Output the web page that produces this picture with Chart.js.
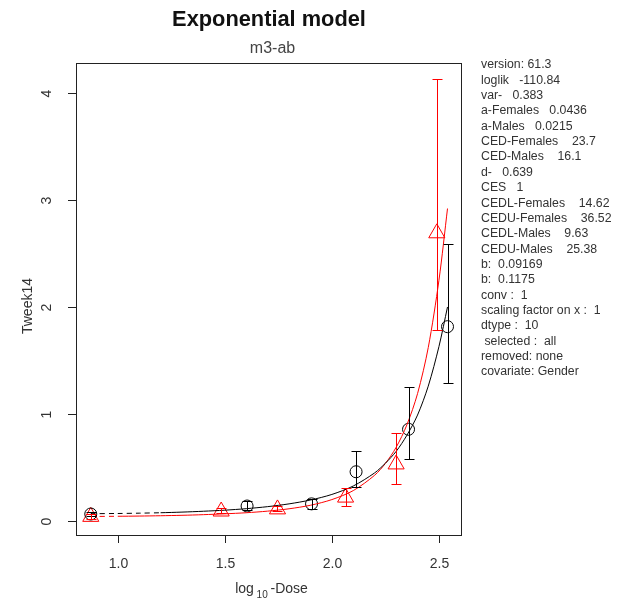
<!DOCTYPE html>
<html>
<head>
<meta charset="utf-8">
<title>Exponential model</title>
<script src="https://cdn.jsdelivr.net/npm/chart.js@4.4.1/dist/chart.umd.min.js"></script>
<style>
  html, body { margin:0; padding:0; background:#fff; }
  canvas { display:block; }
</style>
</head>
<body>
<canvas id="chart" width="618" height="607"></canvas>
<script>
// log10-dose grid for the fitted curves
const curveX     = [0.874, 1.0, 1.1, 1.2, 1.3, 1.4, 1.5, 1.6, 1.7, 1.8, 1.9, 2.0, 2.1, 2.2, 2.25, 2.3, 2.35, 2.4, 2.45, 2.5, 2.54];
const curveBlack = [0.068, 0.070, 0.073, 0.077, 0.083, 0.091, 0.101, 0.115, 0.134, 0.16, 0.196, 0.248, 0.327, 0.45, 0.54, 0.65, 0.80, 0.99, 1.26, 1.63, 2.0];
const curveRed   = [0.042, 0.044, 0.046, 0.049, 0.053, 0.059, 0.067, 0.077, 0.092, 0.114, 0.147, 0.2, 0.284, 0.428, 0.538, 0.688, 0.897, 1.19, 1.62, 2.25, 2.92];
const dashBlackTo = 1.2;
const dashRedTo   = 1.0;

// observed means with error bars
const circX  = [0.874, 1.604, 1.905, 2.113, 2.358, 2.540];
const circY  = [0.065, 0.14, 0.16, 0.46, 0.857, 1.816];
const circLo = [0.045, 0.10, 0.11, 0.32, 0.577, 1.287];
const circHi = [0.085, 0.19, 0.21, 0.65, 1.255, 2.59];

const triX  = [0.874, 1.483, 1.746, 2.064, 2.300, 2.490];
const triY  = [0.040, 0.09, 0.11, 0.22, 0.53, 2.69];
const triLo = [0.020, 0.07, 0.09, 0.14, 0.346, 1.785];
const triHi = [0.065, 0.12, 0.14, 0.31, 0.825, 4.13];

const xTicks = [1.0, 1.5, 2.0, 2.5];
const yTicks = [0, 1, 2, 3, 4];

const infoLines = [
  "version: 61.3",
  "loglik   -110.84",
  "var-   0.383",
  "a-Females   0.0436",
  "a-Males   0.0215",
  "CED-Females    23.7",
  "CED-Males    16.1",
  "d-   0.639",
  "CES   1",
  "CEDL-Females    14.62",
  "CEDU-Females    36.52",
  "CEDL-Males    9.63",
  "CEDU-Males    25.38",
  "b:  0.09169",
  "b:  0.1175",
  "conv :  1",
  "scaling factor on x :  1",
  "dtype :  10",
  " selected :  all",
  "removed: none",
  "covariate: Gender"
];

const FONT = "'Liberation Sans', Arial, sans-serif";
const INK = "#222";

function pts(xs, ys){ return xs.map((x, i) => ({ x, y: ys[i] })); }

const frame = {
  id: "frame",
  beforeDatasetsDraw(c){
    const { ctx, chartArea: a } = c;
    const xs = c.scales.x, ys = c.scales.y;
    ctx.save();
    ctx.strokeStyle = INK;
    ctx.lineWidth = 1;
    ctx.strokeRect(Math.round(a.left) + 0.5, Math.round(a.top) + 0.5,
                   Math.round(a.right - a.left), Math.round(a.bottom - a.top));

    ctx.fillStyle = "#333";
    ctx.font = `14px ${FONT}`;
    ctx.textAlign = "center";
    ctx.textBaseline = "middle";
    xTicks.forEach(v => {
      const px = Math.round(xs.getPixelForValue(v)) + 0.5;
      ctx.beginPath(); ctx.moveTo(px, a.bottom + 1); ctx.lineTo(px, a.bottom + 8); ctx.stroke();
      ctx.fillText(v.toFixed(1), px, a.bottom + 29);
    });
    yTicks.forEach(v => {
      const py = Math.round(ys.getPixelForValue(v)) + 0.5;
      ctx.beginPath(); ctx.moveTo(a.left - 8, py); ctx.lineTo(a.left, py); ctx.stroke();
      ctx.save();
      ctx.translate(a.left - 29, py);
      ctx.rotate(-Math.PI / 2);
      ctx.fillText(String(v), 0, 0);
      ctx.restore();
    });

    // axis titles
    ctx.save();
    ctx.translate(28, 306);
    ctx.rotate(-Math.PI / 2);
    ctx.fillText("Tweek14", 0, 0);
    ctx.restore();

    ctx.textAlign = "left";
    ctx.textBaseline = "alphabetic";
    const cx = (a.left + a.right) / 2;
    const w1 = ctx.measureText("log").width;
    ctx.font = `10px ${FONT}`;
    const w2 = ctx.measureText(" 10 ").width;
    ctx.font = `14px ${FONT}`;
    const w3 = ctx.measureText("-Dose").width;
    let x0 = cx + 3 - (w1 + w2 + w3) / 2;
    ctx.fillText("log", x0, 593);
    ctx.font = `10px ${FONT}`;
    ctx.fillText(" 10 ", x0 + w1, 598);
    ctx.font = `14px ${FONT}`;
    ctx.fillText("-Dose", x0 + w1 + w2, 593);

    // titles
    ctx.fillStyle = "#111";
    ctx.textAlign = "center";
    ctx.font = `bold 21.8px ${FONT}`;
    ctx.fillText("Exponential model", cx + 0.5, 26);
    ctx.fillStyle = "#444";
    ctx.font = `16px ${FONT}`;
    ctx.fillText("m3-ab", cx + 4, 53);

    // fit summary
    ctx.fillStyle = "#333";
    ctx.textAlign = "left";
    ctx.textBaseline = "middle";
    ctx.font = `12.3px ${FONT}`;
    infoLines.forEach((s, i) => ctx.fillText(s, 481, 65 + i * 15.35));
    ctx.restore();
  },
  afterDatasetsDraw(c){
    const { ctx } = c;
    const xs = c.scales.x, ys = c.scales.y;
    const bars = (X, Lo, Hi, col) => {
      ctx.strokeStyle = col;
      ctx.lineWidth = 1;
      X.forEach((x, i) => {
        const px = Math.round(xs.getPixelForValue(x)) + 0.5;
        const lo = Math.round(ys.getPixelForValue(Lo[i])) + 0.5;
        const hi = Math.round(ys.getPixelForValue(Hi[i])) + 0.5;
        ctx.beginPath();
        ctx.moveTo(px, lo); ctx.lineTo(px, hi);
        ctx.moveTo(px - 5, lo); ctx.lineTo(px + 5, lo);
        ctx.moveTo(px - 5, hi); ctx.lineTo(px + 5, hi);
        ctx.stroke();
      });
    };
    ctx.save();
    bars(circX, circLo, circHi, "#000");
    bars(triX, triLo, triHi, "#ff0000");
    ctx.restore();
  }
};

function curve(ys, col, dashTo){
  return {
    type: "line",
    data: pts(curveX, ys),
    borderColor: col,
    borderWidth: 1,
    pointRadius: 0,
    tension: 0.3,
    fill: false,
    segment: { borderDash: s => s.p1.parsed.x <= dashTo + 1e-9 ? [5, 4] : undefined }
  };
}

new Chart(document.getElementById("chart"), {
  type: "scatter",
  data: {
    datasets: [
      curve(curveBlack, "#000", dashBlackTo),
      curve(curveRed, "#ff0000", dashRedTo),
      { data: pts(circX, circY), pointStyle: "circle", pointRadius: 6, borderColor: "#000",
        borderWidth: 1, backgroundColor: "rgba(0,0,0,0)" },
      { data: pts(triX, triY), pointStyle: "triangle", pointRadius: 9.3, borderColor: "#ff0000",
        borderWidth: 1, backgroundColor: "rgba(0,0,0,0)" }
    ]
  },
  options: {
    responsive: false,
    animation: false,
    devicePixelRatio: 1,
    layout: { padding: { left: 76, top: 63, right: 157, bottom: 72 } },
    plugins: { legend: { display: false }, tooltip: { enabled: false } },
    scales: {
      x: { type: "linear", display: false, min: 0.805, max: 2.603 },
      y: { type: "linear", display: false, min: -0.131, max: 4.28 }
    }
  },
  plugins: [frame]
});
</script>
</body>
</html>
